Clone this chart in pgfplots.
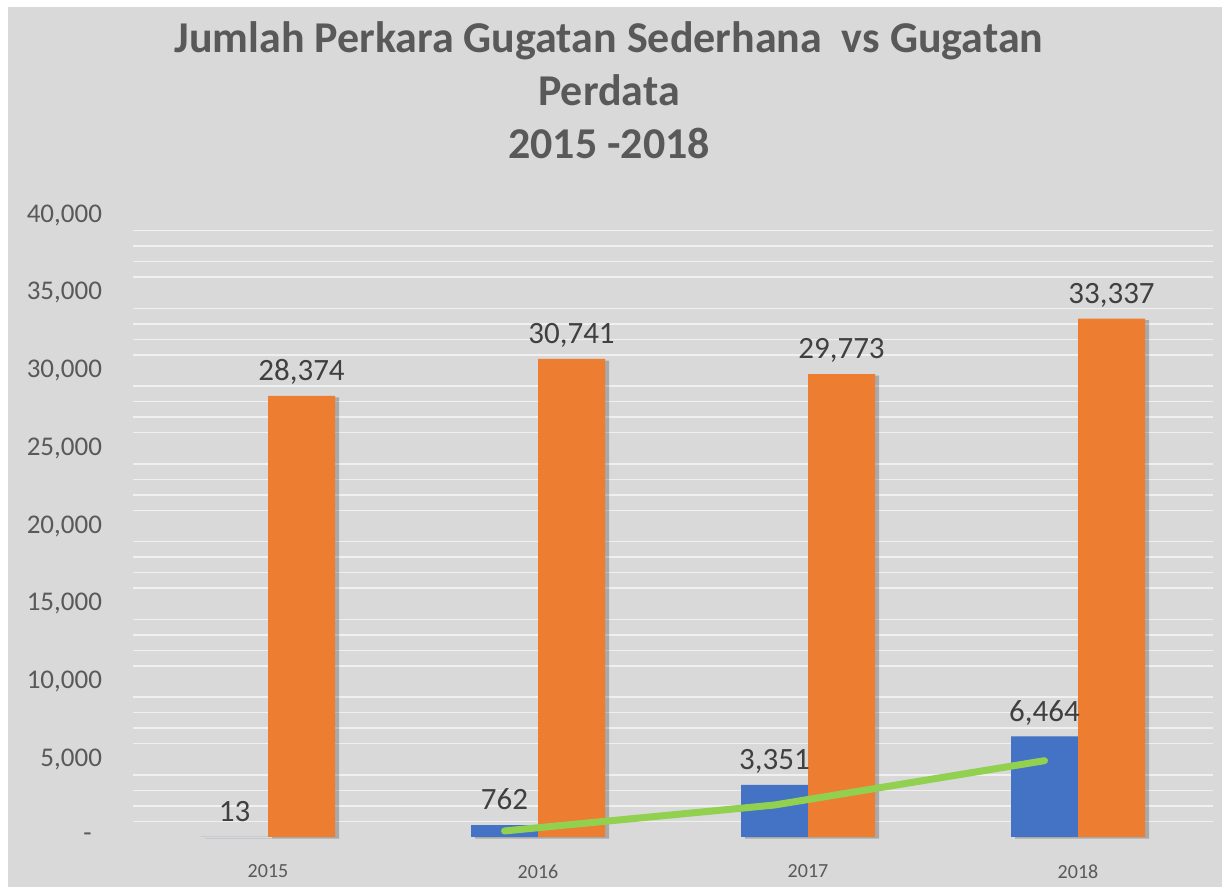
\documentclass[border=0pt]{standalone}
\usepackage{pgfplots}
\pgfplotsset{compat=1.18}
\usepackage{fontspec}
\setmainfont{Carlito}
\usetikzlibrary{shadows}
\definecolor{bg}{HTML}{D9D9D9}
\definecolor{barblue}{HTML}{4472C4}
\definecolor{barorange}{HTML}{ED7D31}
\definecolor{trendgreen}{HTML}{92D050}
\definecolor{labelgray}{HTML}{595959}
\definecolor{datagray}{HTML}{404040}
\definecolor{gridwhite}{HTML}{F0F0F0}
\begin{document}
\begin{tikzpicture}
\fill[white] (0,0) rectangle (611pt,443.5pt);
\fill[bg] (4pt,0) rectangle (611pt,440pt);
\node[font=\bfseries\fontsize{22}{26}\selectfont, text=labelgray, anchor=base] at (304.5pt,417pt) {Jumlah Perkara Gugatan Sederhana\ \ vs Gugatan};
\node[font=\bfseries\fontsize{22}{26}\selectfont, text=labelgray, anchor=base] at (304.5pt,390.5pt) {Perdata};
\node[font=\bfseries\fontsize{22}{26}\selectfont, text=labelgray, anchor=base] at (304.5pt,364pt) {2015 -2018};
\begin{axis}[
  at={(66.5pt,25pt)}, anchor=south west,
  scale only axis, width=540pt, height=311pt,
  xmin=-0.5, xmax=3.5, ymin=0, ymax=40000,
  scaled y ticks=false,
  axis line style={draw=none}, tick style={draw=none},
  ybar=0pt, bar width=33.5pt,
  xtick={0,1,2,3}, xticklabels={2015,2016,2017,2018},
  x tick label style={font=\fontsize{10}{12}\selectfont, text=labelgray, yshift=-6pt},
  ytick={0,5000,10000,15000,20000,25000,30000,35000,40000},
  yticklabels={{-\rule{5.2pt}{0pt}},{5,000},{10,000},{15,000},{20,000},{25,000},{30,000},{35,000},{40,000}},
  y tick label style={font=\fontsize{13.5}{16}\selectfont, text=labelgray, xshift=-12pt},
  minor y tick num=4,
  yminorgrids=true, ymajorgrids=false,
  minor grid style={draw=gridwhite, line width=0.75pt},
  clip=false,
]
\addplot[fill=barblue, draw=none,
  drop shadow={shadow xshift=2pt, shadow yshift=-0.8pt, opacity=0.22, fill=black},
  nodes near coords={\pgfmathprintnumber[fixed,precision=0,1000 sep={,},assume math mode=true]{\pgfplotspointmeta}},
  nodes near coords style={font=\fontsize{15.5}{18}\selectfont, text=datagray, anchor=base, yshift=7.7pt}]
  coordinates {(0,13) (1,762) (2,3351) (3,6464)};
\addplot[fill=barorange, draw=none,
  drop shadow={shadow xshift=2pt, shadow yshift=-0.8pt, opacity=0.22, fill=black},
  nodes near coords={\pgfmathprintnumber[fixed,precision=0,1000 sep={,},assume math mode=true]{\pgfplotspointmeta}},
  nodes near coords style={font=\fontsize{15.5}{18}\selectfont, text=datagray, anchor=base, yshift=7.7pt}]
  coordinates {(0,28374) (1,30741) (2,29773) (3,33337)};
\addplot[sharp plot, draw=trendgreen, line width=3.5pt, line cap=round, line join=round, mark=none]
  coordinates {(0.876,387.5) (1.876,2056.5) (2.876,4907.5)};
\end{axis}
\end{tikzpicture}
\end{document}
